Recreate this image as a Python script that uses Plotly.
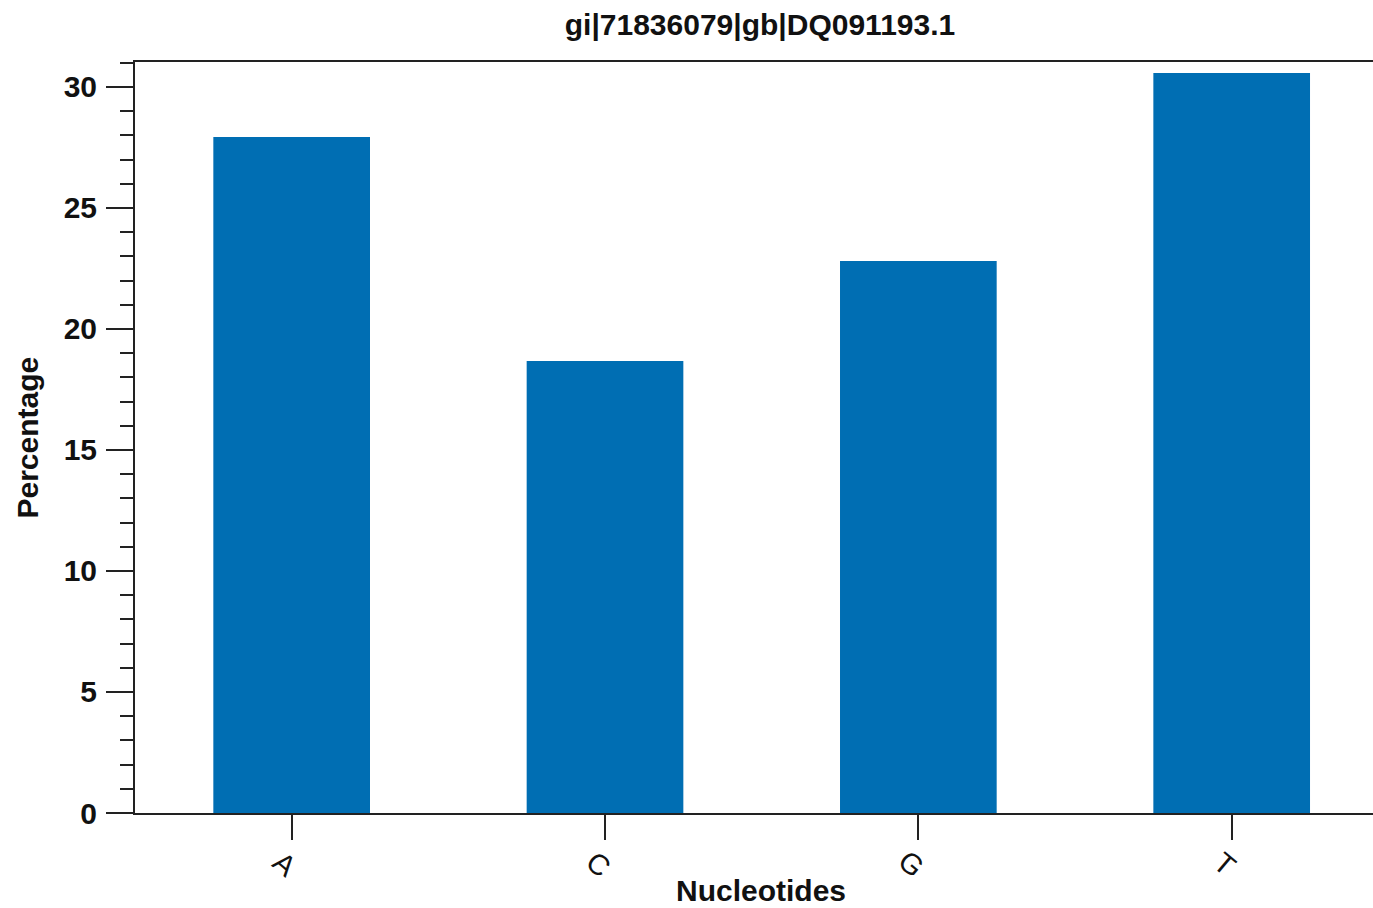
import plotly.graph_objects as go

categories = ["A", "C", "G", "T"]
percentages = [27.93, 18.68, 22.81, 30.58]
title_text = "gi|71836079|gb|DQ091193.1"
x_title = "Nucleotides"
y_title = "Percentage"
y_tickvals = [0, 5, 10, 15, 20, 25, 30]

FONT = "Liberation Sans, Arial, Helvetica, sans-serif"
LINE = "#222222"
TXT = "#111111"

fig = go.Figure()
fig.add_trace(go.Bar(
    x=categories, y=percentages, width=0.5,
    marker=dict(color="#006EB3", line=dict(width=0)),
))

fig.update_layout(
    width=1373, height=908,
    margin=dict(l=135, r=0, t=62, b=95),
    paper_bgcolor="white", plot_bgcolor="white",
    showlegend=False,
    font=dict(family=FONT, color=TXT),
    title=dict(text=title_text, x=760 / 1373, xref="container", xanchor="center",
               y=1 - 24 / 908, yref="container", yanchor="middle",
               font=dict(size=30, weight="bold", family=FONT, color=TXT)),
)

fig.update_xaxes(
    type="category", range=[-0.5, 3.451],
    showline=True, linecolor=LINE, linewidth=2, mirror=True,
    ticks="outside", ticklen=25, tickwidth=2, tickcolor=LINE,
    showticklabels=False,
    showgrid=False, zeroline=False,
)
fig.update_yaxes(
    range=[0, 31.03], tickvals=y_tickvals,
    showline=True, linecolor=LINE, linewidth=2, mirror=False,
    ticks="outside", ticklen=27, tickwidth=2, tickcolor=LINE,
    minor=dict(dtick=1, ticks="outside", ticklen=13, tickwidth=2, tickcolor=LINE, showgrid=False),
    tickfont=dict(size=30, weight="bold", family=FONT, color=TXT),
    ticklabelstandoff=3,
    showgrid=False, zeroline=False,
)

# rotated category labels under each tick
for cat in categories:
    fig.add_annotation(text=cat, x=cat, xref="x", xshift=-7,
                       yref="paper", y=-(864 - 813) / (813 - 62), yanchor="middle",
                       textangle=40, showarrow=False,
                       font=dict(size=29, family=FONT, color=TXT))

fig.add_annotation(text=x_title, xref="paper", x=(761 - 135) / (1373 - 135), xanchor="center",
                   yref="paper", y=-(890 - 813) / (813 - 62), yanchor="middle",
                   showarrow=False, font=dict(size=30, weight="bold", family=FONT, color=TXT))
fig.add_annotation(text=y_title, xref="paper", x=-(135 - 27) / (1373 - 135), xanchor="center",
                   yref="paper", y=0.5, yanchor="middle", textangle=-90,
                   showarrow=False, font=dict(size=30, weight="bold", family=FONT, color=TXT))

fig.write_html("out.html")
